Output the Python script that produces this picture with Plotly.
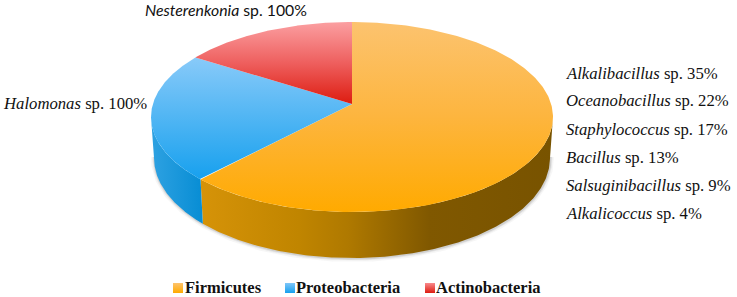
import numpy as np
import plotly.graph_objects as go

phyla = ["Firmicutes", "Proteobacteria", "Actinobacteria"]
phylum_shares = [62, 22, 16]
firmicutes_genera = ["Alkalibacillus", "Oceanobacillus", "Staphylococcus", "Bacillus", "Salsuginibacillus", "Alkalicoccus"]
firmicutes_percent = [35, 22, 17, 13, 9, 4]
proteobacteria_genus = "Halomonas"
proteobacteria_percent = 100
actinobacteria_genus = "Nesterenkonia"
actinobacteria_percent = 100

W, H = 737, 297
CX, CY, RX, RY = 352, 117, 201, 95
BCY, BRX, BRY = 158, 198, 100
TILT = 0.137


def project(theta):
    u, v = np.sin(theta), np.cos(theta)
    d = 1 + TILT * v
    return u * np.sqrt(1 - TILT ** 2) / d, (v + TILT) / d


def top_xy(theta):
    X, Y = project(theta)
    return CX + RX * X, CY - RY * Y


def bottom_xy(theta):
    X, Y = project(theta)
    return CX + BRX * X, BCY - BRY * Y


total = sum(phylum_shares)
edges = np.concatenate([[0], np.cumsum(phylum_shares)]) / total * 2 * np.pi
apex_x, apex_y = CX, CY - RY * TILT

top_grad = [
    dict(type="vertical", start=22, stop=212, colorscale=[[0, "#FCC36F"], [0.5, "#FDB53E"], [1, "#FFAA00"]]),
    dict(type="vertical", start=58, stop=180, colorscale=[[0, "#88CAF9"], [1, "#16A0EE"]]),
    dict(type="vertical", start=22, stop=104, colorscale=[[0, "#FB9FA1"], [0.5, "#EE5F5E"], [1, "#DD1C10"]]),
]
side_grad = [
    dict(type="horizontal", start=200, stop=553,
         colorscale=[[0, "#D69308"], [0.28, "#C08500"], [0.42, "#AF7900"], [0.65, "#805800"], [1, "#785300"]]),
    dict(type="horizontal", start=150, stop=203, colorscale=[[0, "#2FA2E2"], [1, "#078DD4"]]),
]
legend_marks = [("#FDC36D", "#FFAA00"), ("#7FC6F8", "#16A0EE"), ("#F98A8C", "#DD1C10")]
legend_mark_x = [178, 290, 430]
legend_text_x = [186, 297, 437]

fig = go.Figure()

# soft shadow below the side wall
theta_visible = np.linspace(0, 2 * np.pi, 721)
sx, sy = bottom_xy(theta_visible)
keep = project(theta_visible)[1] <= 0.02
for width, alpha in [(7, 0.05), (4, 0.08), (2, 0.14)]:
    fig.add_trace(go.Scatter(x=sx[keep] + 0.5, y=sy[keep] + 0.5, mode="lines",
                             line=dict(color=f"rgba(70,70,70,{alpha})", width=width),
                             hoverinfo="skip", showlegend=False))

# side walls: only the front half of the drum is visible
for i, grad in enumerate(side_grad):
    t = np.linspace(edges[i], edges[i + 1], 400)
    t = t[project(t)[1] <= 0]
    tx, ty = top_xy(t)
    bx, by = bottom_xy(t)
    fig.add_trace(go.Scatter(x=np.r_[tx, bx[::-1], tx[0]], y=np.r_[ty, by[::-1], ty[0]], mode="lines",
                             line=dict(width=0), fill="toself", fillcolor="rgba(0,0,0,0)",
                             fillgradient=grad, hoverinfo="skip", showlegend=False))

# top faces
for i, grad in enumerate(top_grad):
    t = np.linspace(edges[i], edges[i + 1], 300)
    tx, ty = top_xy(t)
    fig.add_trace(go.Scatter(x=np.r_[apex_x, tx, apex_x], y=np.r_[apex_y, ty, apex_y], mode="lines",
                             line=dict(width=0), fill="toself", fillcolor="rgba(0,0,0,0)",
                             fillgradient=grad, hoverinfo="skip", showlegend=False))

# legend keys and names
for name, (c0, c1), mx, tx0 in zip(phyla, legend_marks, legend_mark_x, legend_text_x):
    fig.add_trace(go.Scatter(x=[mx], y=[288], mode="markers", name=name, hoverinfo="name", showlegend=False,
                             marker=dict(symbol="square", size=10, color=c0,
                                         gradient=dict(type="vertical", color=c1))))
    fig.add_annotation(x=tx0, y=287.5, text=f"<b>{name}</b>", showarrow=False, xanchor="left", yanchor="middle",
                       xshift=-3, font=dict(family="Liberation Serif", size=16.5, color="#111111"))

label_font = dict(family="Liberation Serif", size=16.7, color="#111111")
for genus, pct, y in zip(firmicutes_genera, firmicutes_percent, [73, 100, 129, 157, 185, 213]):
    fig.add_annotation(x=567, y=y, text=f"<i>{genus}</i> sp. {pct}%", showarrow=False,
                       xanchor="left", yanchor="middle", xshift=-3, font=label_font)
fig.add_annotation(x=4, y=103, text=f"<i>{proteobacteria_genus}</i> sp. {proteobacteria_percent}%",
                   showarrow=False, xanchor="left", yanchor="middle", xshift=-3, font=label_font)
fig.add_annotation(x=144, y=9, text=f"<i>{actinobacteria_genus}</i> sp. {actinobacteria_percent}%",
                   showarrow=False, xanchor="left", yanchor="middle", xshift=-1,
                   font=dict(family="Lato", size=15.8, color="#111111"))

fig.update_layout(
    width=W, height=H, margin=dict(l=0, r=0, t=0, b=0),
    paper_bgcolor="white", plot_bgcolor="white",
    xaxis=dict(range=[0, W], visible=False, fixedrange=True),
    yaxis=dict(range=[H, 0], visible=False, fixedrange=True),
    showlegend=False,
)
fig.write_html("out.html", post_script="document.body.style.margin='0';document.body.style.overflow='hidden';",
               config={"displayModeBar": False})
